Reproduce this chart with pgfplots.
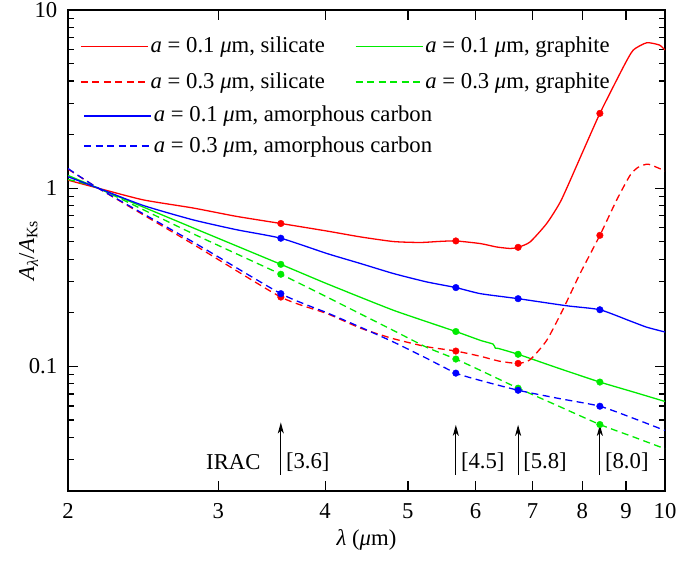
\documentclass[border=0pt]{standalone}
\usepackage{pgfplots}
\pgfplotsset{compat=1.18}
\usepackage{fontspec}
\setmainfont{Liberation Serif}
\usetikzlibrary{arrows.meta}
\definecolor{cred}{RGB}{255,0,0}
\definecolor{cgreen}{RGB}{0,235,0}
\definecolor{cblue}{RGB}{0,0,255}
\newcommand{\bigf}{\fontsize{22.7}{27}\selectfont}
\begin{document}
\bigf
\begin{tikzpicture}[>={Stealth[length=11pt,width=6pt,inset=3pt]}]
\useasboundingbox (-68pt,-70pt) rectangle (608pt,491pt);
\begin{axis}[
  at={(0,0)}, anchor=south west,
  scale only axis, width=597pt, height=481pt,
  xmode=log, ymode=log,
  xmin=2, xmax=10, ymin=0.02, ymax=10,
  legend image code/.code={\draw[#1, line width=1.5pt] (0pt,0pt) -- (67pt,0pt);},
  xtick={2,3,4,5,6,7,8,9,10}, xticklabels={2,3,4,5,6,7,8,9,10},
  minor xtick={},
  ytick={0.1,1,10}, yticklabels={0.1,1,10},
  minor ytick={0.02,0.03,0.04,0.05,0.06,0.07,0.08,0.09,0.2,0.3,0.4,0.5,0.6,0.7,0.8,0.9,2,3,4,5,6,7,8,9},
  tick align=inside,
  major tick length=10pt, minor tick length=6pt,
  every tick/.style={black, line width=1.2pt},
  axis line style={line width=1.5pt},
  tick label style={font=\bigf},
  xticklabel style={yshift=-5pt},
  yticklabel style={xshift=-3pt},
  xlabel={{\itshape λ} ({\itshape μ}m)},
  ylabel={{\itshape A}\textsubscript{\itshape λ}/{\itshape A}\textsubscript{Ks}},
  label style={font=\bigf},
  xlabel style={at={(axis description cs:0.5,-0.102)}, anchor=center},
  ylabel style={at={(axis description cs:-0.066,0.5)}, anchor=center},
  legend columns=2,
  legend style={at={(rel axis cs:0,1)}, anchor=north west, xshift=9pt, yshift=-22.5pt,
    draw=none, fill=none, font=\bigf, row sep=12.5pt,
    /tikz/every even column/.append style={column sep=28pt}},
]
\addplot[cred, line width=1.3pt, smooth, tension=0.35] coordinates {
(2.00,1.11) (2.17,1.00) (2.45,0.86) (2.80,0.775) (3.15,0.695) (3.55,0.634) (4.02,0.575)
(4.40,0.533) (4.81,0.502) (5.17,0.496) (5.45,0.503) (5.69,0.506) (6.08,0.489) (6.35,0.468)
(6.59,0.459) (6.73,0.466) (6.95,0.499) (7.27,0.634) (7.56,0.857) (8.02,1.62)
(8.39,2.63) (8.94,4.8) (9.18,5.96) (9.52,6.55) (9.85,6.36) (10,5.96)};
\addlegendentry{{\itshape a} = 0.1 {\itshape μ}m, silicate}
\addplot[cgreen, line width=1.3pt, smooth, tension=0.3] coordinates {
(2.00,1.18) (2.17,1.00) (2.80,0.60) (3.55,0.374) (4.02,0.291) (4.81,0.2065) (5.69,0.157)
(6.08,0.140) (6.29,0.1335) (6.33,0.1265) (6.38,0.1262) (6.73,0.117) (7.50,0.0978)
(8.39,0.0817) (9.20,0.0717) (10,0.0636)};
\addlegendentry{{\itshape a} = 0.1 {\itshape μ}m, graphite}
\addplot[cred, line width=1.3pt, dash pattern=on 7pt off 4.5pt, smooth, tension=0.35] coordinates {
(2.00,1.28) (2.17,1.00) (2.80,0.486) (3.55,0.245) (4.02,0.198) (4.40,0.164) (4.81,0.143)
(5.26,0.129) (5.69,0.122) (6.08,0.114) (6.40,0.107) (6.73,0.104) (6.95,0.109) (7.27,0.140)
(7.60,0.210) (7.95,0.330) (8.39,0.544) (8.78,0.86) (9.10,1.18) (9.30,1.31) (9.56,1.364) (10,1.25)};
\addlegendentry{{\itshape a} = 0.3 {\itshape μ}m, silicate}
\addplot[cgreen, line width=1.3pt, dash pattern=on 7pt off 4.5pt, smooth, tension=0.3] coordinates {
(2.00,1.12) (2.17,1.00) (2.80,0.556) (3.55,0.329) (4.02,0.245) (4.81,0.159) (5.26,0.128)
(5.69,0.110) (6.08,0.095) (6.73,0.0755) (7.50,0.060) (8.39,0.0472) (9.20,0.0401) (10,0.0345)};
\addlegendentry{{\itshape a} = 0.3 {\itshape μ}m, graphite}
\addplot[only marks, mark=*, mark size=3.3pt, cred, forget plot] coordinates {
(3.55,0.634) (5.69,0.506) (6.73,0.466) (8.39,2.63)};
\addplot[only marks, mark=*, mark size=3.3pt, cred, forget plot] coordinates {
(3.55,0.245) (5.69,0.122) (6.73,0.104) (8.39,0.544)};
\addplot[only marks, mark=*, mark size=3.3pt, cgreen, forget plot] coordinates {
(3.55,0.374) (5.69,0.157) (6.73,0.117) (8.39,0.0817)};
\addplot[only marks, mark=*, mark size=3.3pt, cgreen, forget plot] coordinates {
(3.55,0.329) (5.69,0.110) (6.73,0.0755) (8.39,0.0472)};
\draw[line width=1pt, ->] (axis cs:3.55,0.0247) -- (axis cs:3.55,0.0485);
\draw[line width=1pt, ->] (axis cs:5.69,0.0247) -- (axis cs:5.69,0.0470);
\draw[line width=1pt, ->] (axis cs:6.73,0.0247) -- (axis cs:6.73,0.0470);
\draw[line width=1pt, ->] (axis cs:8.39,0.0247) -- (axis cs:8.39,0.0470);
\node[anchor=east, font=\bigf, inner sep=2pt] at (axis cs:3.38,0.0289) {IRAC};
\node[anchor=west, font=\bigf, inner sep=2pt, xshift=3pt] at (axis cs:3.55,0.0289) {[3.6]};
\node[anchor=west, font=\bigf, inner sep=2pt, xshift=3pt] at (axis cs:5.69,0.0289) {[4.5]};
\node[anchor=west, font=\bigf, inner sep=2pt, xshift=3pt] at (axis cs:6.73,0.0289) {[5.8]};
\node[anchor=west, font=\bigf, inner sep=2pt, xshift=3pt] at (axis cs:8.39,0.0289) {[8.0]};
\end{axis}
\begin{axis}[
  at={(0,0)}, anchor=south west,
  scale only axis, width=597pt, height=481pt,
  xmode=log, ymode=log,
  xmin=2, xmax=10, ymin=0.02, ymax=10,
  hide axis,
  legend image code/.code={\draw[#1, line width=1.7pt] (0pt,0pt) -- (67pt,0pt);},
  legend columns=1,
  legend style={at={(rel axis cs:0,1)}, anchor=north west, xshift=12pt, yshift=-92pt,
    draw=none, fill=none, font=\bigf, row sep=7pt},
]
\addplot[cblue, line width=1.3pt, smooth, tension=0.35] coordinates {
(2.00,1.16) (2.17,1.00) (2.45,0.80) (2.80,0.665) (3.15,0.585) (3.55,0.524) (4.02,0.430)
(4.40,0.378) (4.81,0.332) (5.26,0.298) (5.69,0.277) (6.08,0.256) (6.73,0.240) (7.67,0.219)
(8.39,0.208) (9.10,0.180) (9.52,0.166) (10,0.156)};
\addlegendentry{{\itshape a} = 0.1 {\itshape μ}m, amorphous carbon}
\addplot[cblue, line width=1.3pt, dash pattern=on 7pt off 4.5pt, smooth, tension=0.35] coordinates {
(2.00,1.29) (2.17,1.00) (2.80,0.50) (3.55,0.256) (4.02,0.200) (4.40,0.166) (4.81,0.137)
(5.26,0.111) (5.69,0.0917) (6.08,0.0834) (6.73,0.0735) (7.50,0.0662) (8.39,0.0598)
(9.20,0.051) (10,0.0437)};
\addlegendentry{{\itshape a} = 0.3 {\itshape μ}m, amorphous carbon}
\addplot[only marks, mark=*, mark size=3.3pt, cblue, forget plot] coordinates {
(3.55,0.524) (5.69,0.277) (6.73,0.240) (8.39,0.208)};
\addplot[only marks, mark=*, mark size=3.3pt, cblue, forget plot] coordinates {
(3.55,0.256) (5.69,0.0917) (6.73,0.0735) (8.39,0.0598)};
\end{axis}
\end{tikzpicture}
\end{document}
